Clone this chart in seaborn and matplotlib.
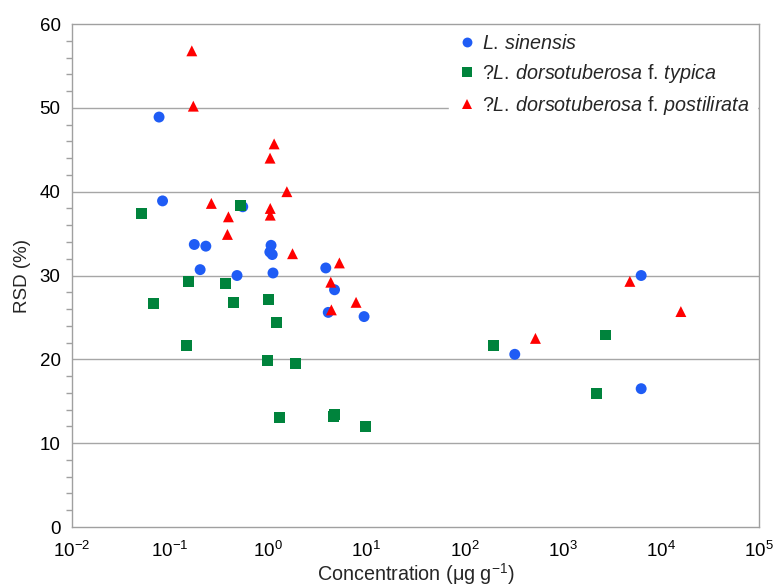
import numpy as np
import pandas as pd
import matplotlib
matplotlib.use("Agg")
import matplotlib.pyplot as plt
from matplotlib.ticker import LogLocator, MultipleLocator, LogFormatterSciNotation, NullLocator
import seaborn as sns

sns.set_style("white")
plt.rcParams["font.family"] = ["Liberation Sans", "DejaVu Sans"]
plt.rcParams["mathtext.fontset"] = "custom"
plt.rcParams["mathtext.rm"] = "Liberation Sans"
plt.rcParams["mathtext.it"] = "Liberation Sans:italic"
plt.rcParams["mathtext.bf"] = "Liberation Sans:bold"

# Concentration (ug/g) and RSD (%) per taxon
sinensis_conc = [0.0775, 0.0841, 0.177, 0.232, 0.203, 0.482, 0.551, 1.07, 1.04,
                 1.10, 1.12, 3.86, 4.74, 4.09, 9.47, 324, 6270, 6270]
sinensis_rsd = [48.9, 38.9, 33.7, 33.5, 30.7, 30.0, 38.2, 33.6, 32.8,
                32.5, 30.3, 30.9, 28.3, 25.6, 25.1, 20.6, 30.0, 16.5]

typica_conc = [0.0514, 0.0678, 0.148, 0.155, 0.366, 0.439, 0.518, 1.01, 1.21,
               0.99, 1.88, 1.30, 4.76, 4.61, 9.77, 196, 2740, 2200]
typica_rsd = [37.4, 26.7, 21.7, 29.3, 29.0, 26.8, 38.4, 27.1, 24.4,
              19.9, 19.5, 13.1, 13.4, 13.2, 12.0, 21.6, 22.9, 15.9]

postilirata_conc = [0.167, 0.173, 0.264, 0.394, 0.385, 1.05, 1.05, 1.045, 1.15,
                    1.55, 1.77, 5.31, 4.34, 7.85, 4.40, 526, 4810, 15900]
postilirata_rsd = [56.8, 50.2, 38.6, 37.0, 34.9, 38.0, 37.2, 44.0, 45.7,
                   40.0, 32.6, 31.5, 29.2, 26.8, 25.9, 22.5, 29.3, 25.7]

labels = [r"$\it{L.\,sinensis}$",
          r"?$\it{L.\,dorsotuberosa}$ f. $\it{typica}$",
          r"?$\it{L.\,dorsotuberosa}$ f. $\it{postilirata}$"]
colors = ["#1f5cf5", "#00833c", "#ff0000"]
markers = ["o", "s", "^"]

df = pd.concat([
    pd.DataFrame({"conc": sinensis_conc, "rsd": sinensis_rsd, "taxon": labels[0]}),
    pd.DataFrame({"conc": typica_conc, "rsd": typica_rsd, "taxon": labels[1]}),
    pd.DataFrame({"conc": postilirata_conc, "rsd": postilirata_rsd, "taxon": labels[2]}),
], ignore_index=True)

fig = plt.figure(figsize=(7.76, 5.87), dpi=100)
ax = fig.add_axes([0.0924, 0.1022, 0.8861, 0.8569])

grid_c = "#a6a6a6"
for yv in [10, 20, 30, 40, 50]:
    ax.axhline(yv, color=grid_c, lw=1.0, zorder=0)

sns.scatterplot(data=df, x="conc", y="rsd", hue="taxon", style="taxon",
                hue_order=labels, style_order=labels,
                palette=dict(zip(labels, colors)),
                markers=dict(zip(labels, markers)),
                s=62, linewidth=0, edgecolor="none", ax=ax, zorder=3)

ax.set_xscale("log")
ax.set_xlim(1e-2, 1e5)
ax.set_ylim(0, 60)
ax.xaxis.set_major_locator(LogLocator(base=10, numticks=10))
ax.xaxis.set_major_formatter(LogFormatterSciNotation())
ax.xaxis.set_minor_locator(NullLocator())
ax.yaxis.set_major_locator(MultipleLocator(10))
ax.yaxis.set_minor_locator(MultipleLocator(2))

for s in ax.spines.values():
    s.set_color("#a0a0a0")
    s.set_linewidth(1.0)

ax.tick_params(axis="both", which="major", labelsize=13.5, colors="#a0a0a0",
               labelcolor="black", length=5, width=1, direction="out")
ax.tick_params(axis="x", which="major", pad=5)
ax.tick_params(axis="y", which="major", pad=3)
ax.tick_params(axis="y", which="minor", left=True, length=4, width=1, color="#a0a0a0")

ax.set_xlabel(r"Concentration (μg g$^{-1}$)", fontsize=14.2, labelpad=0)
ax.set_ylabel("RSD (%)", fontsize=13.5, labelpad=6)

leg = ax.legend(loc="upper left", bbox_to_anchor=(0.549, 0.996), frameon=True,
                fontsize=14.2, handletextpad=0.25, labelspacing=0.45,
                borderpad=0.4, borderaxespad=0.0, markerscale=0.9,
                handlelength=1.0, framealpha=1, fancybox=False)
leg.get_frame().set_edgecolor("white")
leg.get_frame().set_facecolor("white")
leg.set_zorder(2)

fig.savefig("out.png", dpi=100)
